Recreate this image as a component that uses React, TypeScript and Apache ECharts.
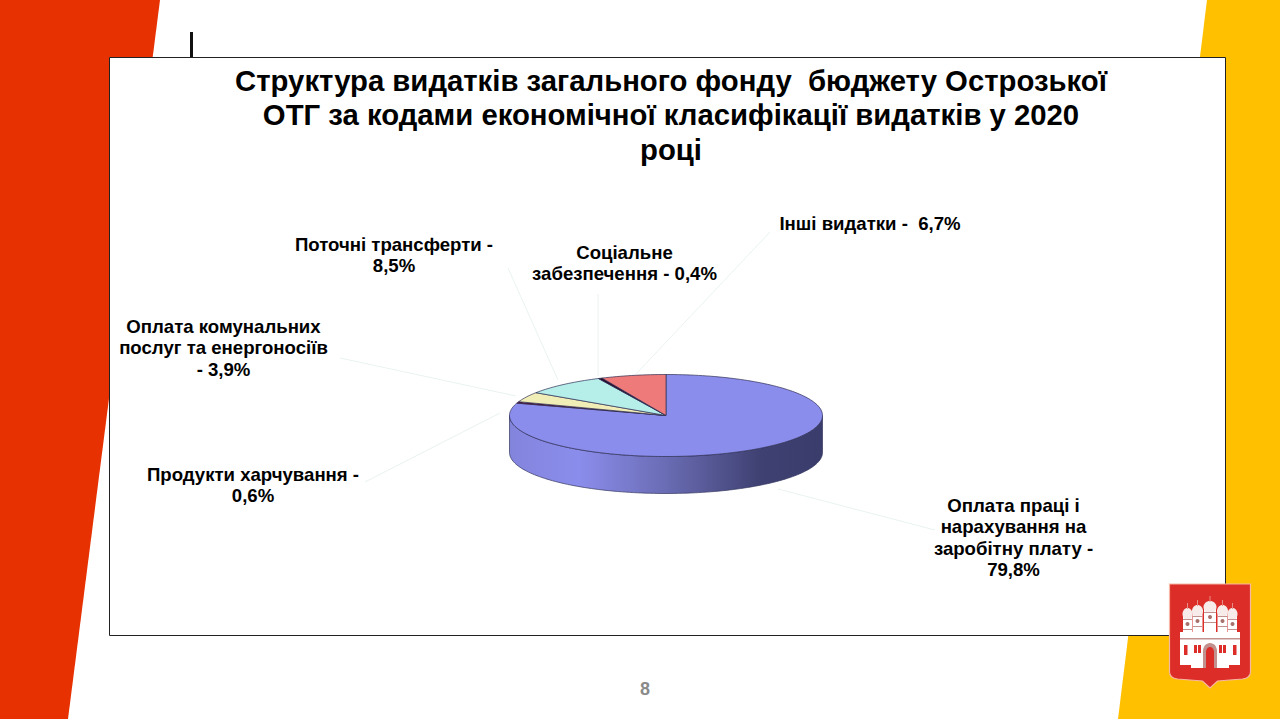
import React, { useEffect, useRef } from "react";
import * as echarts from "echarts";

const categories = [
  "Оплата праці і нарахування на заробітну плату",
  "Продукти харчування",
  "Оплата комунальних послуг та енергоносіїв",
  "Поточні трансферти",
  "Соціальне забезпечення",
  "Інші видатки",
];
const values = [79.8, 0.6, 3.9, 8.5, 0.4, 6.7];
const sliceColors = ["#8B8DEC", "#5A0F3A", "#F1EDB6", "#B6EEEA", "#2A0A2A", "#EE7B79"];

const titleLines = [
  "Структура видатків загального фонду  бюджету Острозької",
  "ОТГ за кодами економічної класифікації видатків у 2020",
  "році",
];
const labelLines = [
  ["Оплата праці і", "нарахування на", "заробітну плату -", "79,8%"],
  ["Продукти харчування -", "0,6%"],
  ["Оплата комунальних", "послуг та енергоносіїв", "- 3,9%"],
  ["Поточні трансферти -", "8,5%"],
  ["Соціальне", "забезпечення - 0,4%"],
  ["Інші видатки -  6,7%"],
];
const labelCenters = [
  [1013.5, 505], [253, 474], [223.5, 326], [394, 244], [624.5, 252], [870, 223],
];
const leaderLines = [
  [[778, 489], [935, 530]],
  [[500, 413], [365, 482]],
  [[516, 396], [340, 358]],
  [[558, 380], [508, 268]],
  [[598, 376], [598, 294]],
  [[636, 374], [770, 232]],
];

const FONT = '"Liberation Sans", Arial, sans-serif';
const CX = 666, CY = 415.5, RX = 156.5, RY = 41, DEPTH = 37;

const ellipsePoint = (deg: number, dy = 0) => {
  const a = (deg * Math.PI) / 180;
  return [CX + RX * Math.sin(a), CY - RY * Math.cos(a) + dy];
};

const arcPoints = (from: number, to: number, dy = 0) => {
  const n = Math.max(2, Math.ceil(Math.abs(to - from) / 1.5));
  const pts: number[][] = [];
  for (let i = 0; i <= n; i++) pts.push(ellipsePoint(from + ((to - from) * i) / n, dy));
  return pts;
};

const total = values.reduce((s, v) => s + v, 0);

const renderSlice = (params: any, api: any) => {
  const i = params.dataIndex;
  const v = api.value(1);
  let before = 0;
  for (let k = 0; k < i; k++) before += values[k];
  const start = (before / total) * 360;
  const end = ((before + v) / total) * 360;
  const children: any[] = [];
  const sideFrom = Math.max(start, 90);
  const sideTo = Math.min(end, 270);
  if (sideTo > sideFrom) {
    children.push({
      type: "polygon",
      shape: { points: [...arcPoints(sideFrom, sideTo), ...arcPoints(sideTo, sideFrom, DEPTH)] },
      style: {
        fill: new echarts.graphic.LinearGradient(1, 0, 0, 0, [
          { offset: 0, color: "#3A3C6C" },
          { offset: 0.2, color: "#3F4172" },
          { offset: 0.5, color: "#6A6CB4" },
          { offset: 0.78, color: "#8B8DEC" },
          { offset: 1, color: "#8284DC" },
        ]),
        stroke: "#34365E",
        lineWidth: 0.7,
      },
    });
  }
  children.push({
    type: "polygon",
    shape: { points: [[CX, CY], ...arcPoints(start, end)] },
    style: { fill: sliceColors[i], stroke: "#2E2E55", lineWidth: 0.7 },
    z2: 2,
  });
  return { type: "group", children };
};

const SHIELD =
  "M0 0 L81 0 L81 88 Q81 94 73 95 L48 97 L40.5 104 L33 97 L8 95 Q0 94 0 88 Z";
echarts.graphic.registerShape("shield", echarts.graphic.extendPath(SHIELD, {}));

const RED = "#DC2D28", ORANGE = "#E83100", YELLOW = "#FFC000";
const SHADE = "#C2918D";

const towers = [
  { x: 1187.5, w: 9, top: 608 },
  { x: 1197.5, w: 10, top: 605 },
  { x: 1210, w: 12, top: 601 },
  { x: 1222.5, w: 10, top: 605 },
  { x: 1232.5, w: 9, top: 608 },
];

const logo: any[] = [
  { type: "shield", x: 1169.5, y: 584, style: { fill: RED, stroke: "#F6B7A4", lineWidth: 1.2 }, z: 5 },
  ...towers.flatMap((t) => [
    { type: "rect", shape: { x: t.x - t.w / 2, y: t.top + 6, width: t.w, height: 634 - t.top - 6 }, style: { fill: "#fff" }, z: 6 },
    { type: "ellipse", shape: { cx: t.x, cy: t.top + 6, rx: t.w / 2 + 0.5, ry: 6 }, style: { fill: "#F7ECEA" }, z: 6 },
    { type: "rect", shape: { x: t.x - 0.5, y: t.top - 5, width: 1, height: 6 }, style: { fill: "#E58E86" }, z: 6 },
    { type: "rect", shape: { x: t.x - t.w / 2, y: t.top + 11, width: t.w, height: 1 }, style: { fill: SHADE }, z: 7 },
    { type: "circle", shape: { cx: t.x, cy: t.top + 16, r: 2 }, style: { fill: "#A8716C" }, z: 7 },
    { type: "rect", shape: { x: t.x - t.w / 2, y: t.top + 21, width: t.w, height: 1 }, style: { fill: SHADE }, z: 7 },
  ]),
  { type: "rect", shape: { x: 1180, y: 632, width: 60, height: 33 }, style: { fill: "#fff" }, z: 6 },
  { type: "rect", shape: { x: 1180, y: 638, width: 60, height: 1.5 }, style: { fill: SHADE }, z: 7 },
  { type: "rect", shape: { x: 1191, y: 665, width: 38, height: 3 }, style: { fill: "#fff" }, z: 6 },
  { type: "rect", shape: { x: 1184, y: 645, width: 3.5, height: 10 }, style: { fill: RED }, z: 7 },
  { type: "rect", shape: { x: 1233, y: 645, width: 3.5, height: 10 }, style: { fill: RED }, z: 7 },
  { type: "rect", shape: { x: 1194, y: 645, width: 3, height: 8 }, style: { fill: RED }, z: 7 },
  { type: "rect", shape: { x: 1198, y: 645, width: 3, height: 8 }, style: { fill: RED }, z: 7 },
  { type: "rect", shape: { x: 1219, y: 645, width: 3, height: 8 }, style: { fill: RED }, z: 7 },
  { type: "rect", shape: { x: 1223, y: 645, width: 3, height: 8 }, style: { fill: RED }, z: 7 },
  { type: "rect", shape: { x: 1203, y: 651, width: 14, height: 17 }, style: { fill: SHADE }, z: 7 },
  { type: "ellipse", shape: { cx: 1210, cy: 651, rx: 7, ry: 8 }, style: { fill: SHADE }, z: 7 },
  { type: "rect", shape: { x: 1206, y: 652, width: 8, height: 16 }, style: { fill: RED }, z: 8 },
  { type: "ellipse", shape: { cx: 1210, cy: 652, rx: 4, ry: 5 }, style: { fill: RED }, z: 8 },
];

const graphics: any[] = [
  { type: "polygon", shape: { points: [[0, 0], [160, 0], [68, 719], [0, 719]] }, style: { fill: ORANGE }, z: 0 },
  { type: "polygon", shape: { points: [[1207, 0], [1280, 0], [1280, 719], [1118, 719]] }, style: { fill: YELLOW }, z: 0 },
  { type: "rect", shape: { x: 190, y: 32, width: 3, height: 25 }, style: { fill: "#111" }, z: 1 },
  { type: "rect", shape: { x: 109.5, y: 57.5, width: 1116, height: 578 }, style: { fill: "#fff", stroke: "#222", lineWidth: 1 }, z: 1 },
  ...titleLines.map((t, i) => ({
    type: "text", x: 671, y: 80 + i * 34.5,
    style: { text: t, font: `bold 29.3px ${FONT}`, fill: "#000", align: "center", verticalAlign: "middle" },
    z: 3,
  })),
  ...leaderLines.map((l) => ({
    type: "line",
    shape: { x1: l[0][0], y1: l[0][1], x2: l[1][0], y2: l[1][1] },
    style: { stroke: "#E9F3EF", lineWidth: 1 },
    z: 2,
  })),
  ...labelLines.flatMap((lines, i) =>
    lines.map((t, j) => ({
      type: "text", x: labelCenters[i][0], y: labelCenters[i][1] + j * 21.5,
      style: { text: t, font: `bold 18.6px ${FONT}`, fill: "#000", align: "center", verticalAlign: "middle" },
      z: 3,
    }))
  ),
  {
    type: "text", x: 645, y: 689,
    style: { text: "8", font: `bold 18px ${FONT}`, fill: "#8A8A8A", align: "center", verticalAlign: "middle" },
    z: 3,
  },
  ...logo,
];

export default function App() {
  const ref = useRef<HTMLDivElement>(null);
  useEffect(() => {
    document.body.style.margin = "0";
    const chart = echarts.init(ref.current!, null, { renderer: "svg" });
    chart.setOption({
      animation: false,
      backgroundColor: "#fff",
      graphic: { elements: graphics },
      series: [
        {
          type: "custom",
          coordinateSystem: "none",
          name: "Структура видатків",
          renderItem: renderSlice,
          z: 3,
          data: categories.map((name, i) => ({ name, value: [i, values[i]] })),
        },
      ],
    });
    return () => chart.dispose();
  }, []);
  return <div ref={ref} style={{ position: "fixed", left: 0, top: 0, width: 1280, height: 719 }} />;
}
